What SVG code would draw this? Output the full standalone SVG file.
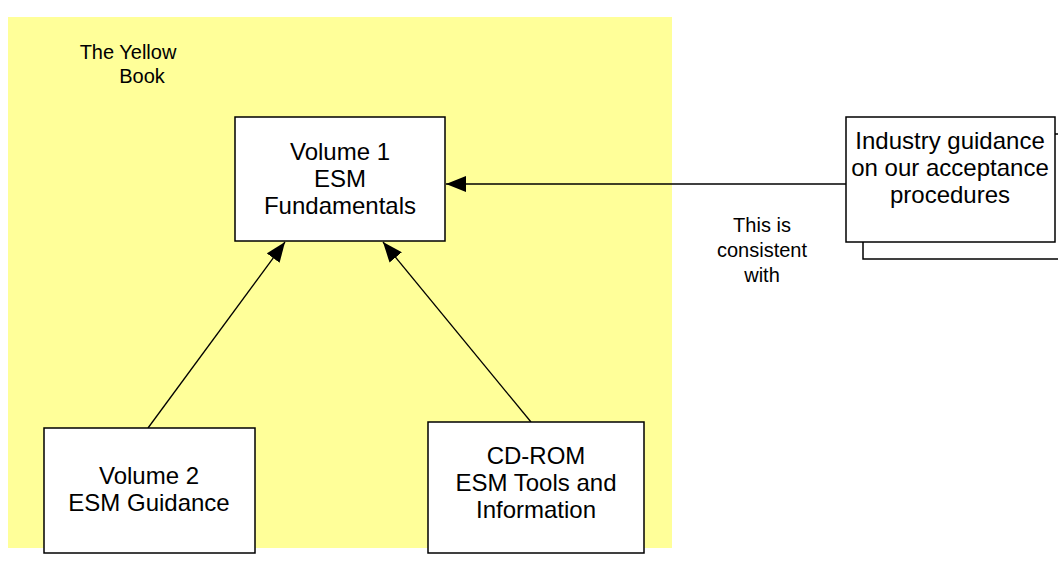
<svg xmlns="http://www.w3.org/2000/svg" width="1058" height="576" viewBox="0 0 1058 576">
<style>
.box{fill:#fff;stroke:#000;stroke-width:1.5}
.t{font-family:"Liberation Sans",Arial,sans-serif;font-size:24px;fill:#000;text-anchor:middle}
.s{font-family:"Liberation Sans",Arial,sans-serif;font-size:20px;fill:#000;text-anchor:middle}
.c{stroke:#000;stroke-width:1.3;fill:none}
</style>
<defs>
<marker id="ah" viewBox="0 0 20 16" refX="20" refY="8" markerWidth="20" markerHeight="16" markerUnits="userSpaceOnUse" orient="auto">
<path d="M0,0 L20,8 L0,16 Z" fill="#000"/>
</marker>
</defs>
<rect x="0" y="0" width="1058" height="576" fill="#fff"/>
<g id="yellow-book">
<rect x="8" y="17" width="664" height="531" fill="#FFFF99"/>
<text class="s" x="128" y="59">The Yellow</text>
<text class="s" x="142" y="83">Book</text>
</g>
<g id="connectors">
<line class="c" x1="846" y1="184" x2="446" y2="184" marker-end="url(#ah)"/>
<line class="c" x1="148" y1="428" x2="285" y2="242" marker-end="url(#ah)"/>
<line class="c" x1="531" y1="422" x2="383" y2="242" marker-end="url(#ah)"/>
</g>
<g id="vol1">
<rect class="box" x="235" y="117" width="210" height="124"/>
<text class="t" x="340" y="160">Volume 1</text>
<text class="t" x="340" y="187">ESM</text>
<text class="t" x="340" y="214">Fundamentals</text>
</g>
<g id="vol2">
<rect class="box" x="44" y="428" width="211" height="125"/>
<text class="t" x="149" y="484">Volume 2</text>
<text class="t" x="149" y="511">ESM Guidance</text>
</g>
<g id="cdrom">
<rect class="box" x="428" y="422" width="216" height="131"/>
<text class="t" x="536" y="464">CD-ROM</text>
<text class="t" x="536" y="491">ESM Tools and</text>
<text class="t" x="536" y="518">Information</text>
</g>
<g id="industry">
<rect class="box" x="863" y="134" width="220" height="125"/>
<rect class="box" x="846" y="117" width="209" height="125"/>
<text class="t" x="950" y="149">Industry guidance</text>
<text class="t" x="950" y="176">on our acceptance</text>
<text class="t" x="950" y="203">procedures</text>
</g>
<g id="label">
<text class="s" x="762" y="232">This is</text>
<text class="s" x="762" y="257">consistent</text>
<text class="s" x="762" y="282">with</text>
</g>
</svg>
